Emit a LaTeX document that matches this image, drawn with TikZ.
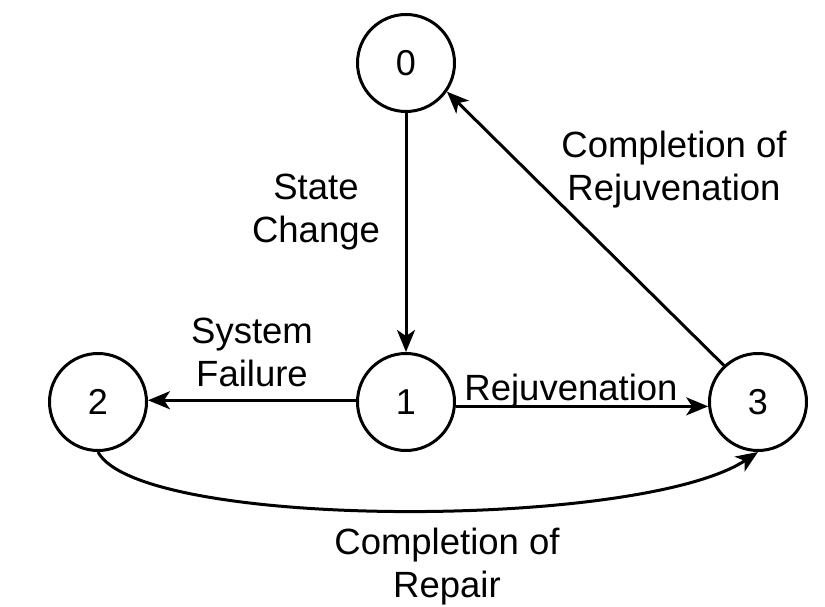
\documentclass[tikz,border=0pt]{standalone}
\usepackage{fontspec}
\setmainfont{Liberation Sans}
\usetikzlibrary{arrows.meta}
\begin{document}
\begin{tikzpicture}[x=1pt,y=1pt,
  state/.style={circle,draw,line width=3pt,minimum size=97pt,inner sep=0pt,font=\fontsize{36}{43}\selectfont},
  lbl/.style={align=center,inner sep=0pt,font=\fontsize{36.5}{43}\selectfont},
  conn/.style={line width=3pt,-{Stealth[length=22pt,width=18pt,inset=6pt]}}]
\useasboundingbox (0,0) rectangle (825,606);
\node[state] (n0) at (406,543) {0};
\node[state] (n1) at (406,204) {1};
\node[state] (n2) at (98,204) {2};
\node[state] (n3) at (758,204) {3};
\draw[conn] (n0.south) -- (n1.north);
\draw[conn] (n1.178) -- (n2.2);
\draw[conn] (n1.-5) -- (n3.185);
\draw[conn] (n3.133) -- (n0.-35);
\draw[conn] (n2.south) .. controls +(42,-78) and +(-118,-78) .. (n3.south);
\node[lbl] (lsc) at (316,394) {State\\Change};
\node[lbl] (lsf) at (252,254) {System\\Failure};
\node[lbl,anchor=base] (lrj) at (571,206) {Rejuvenation};
\node[lbl] (lcr) at (674,436) {Completion of\\Rejuvenation};
\node[lbl] (lcp) at (447,39) {Completion of\\Repair};
\end{tikzpicture}
\end{document}
